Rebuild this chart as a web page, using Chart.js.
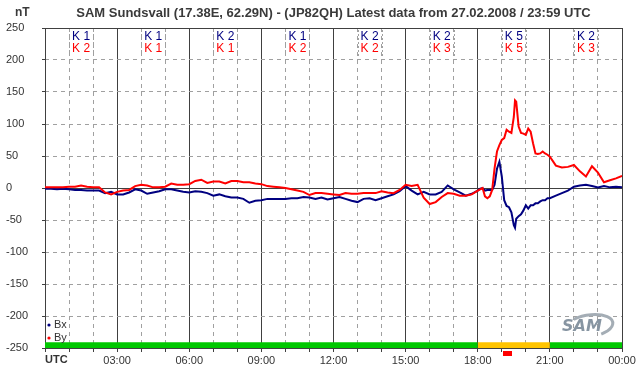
<!DOCTYPE html>
<html>
<head>
<meta charset="utf-8">
<script src="https://cdn.jsdelivr.net/npm/chart.js@4/dist/chart.umd.min.js"></script>
<style>
	html, body { margin: 0; padding: 0; background: #fff; }
	canvas { display: block; }
</style>
</head>
<body>
<canvas id="c" width="642" height="376"></canvas>
<script>
// sample times (hours UTC) and field components in nT
var hours = [
	0, 0.25, 0.5, 0.75, 1, 1.25, 1.5, 1.75, 2, 2.25, 2.5, 2.75,
	3, 3.25, 3.5, 3.75, 4, 4.25, 4.5, 4.75, 5, 5.25, 5.5, 5.75,
	6, 6.25, 6.5, 6.75, 7, 7.25, 7.5, 7.75, 8, 8.25, 8.5, 8.75,
	9, 9.25, 9.5, 9.75, 10, 10.25, 10.5, 10.75, 11, 11.25, 11.5, 11.75,
	12, 12.25, 12.5, 12.75, 13, 13.25, 13.5, 13.75, 14, 14.25, 14.5, 14.75,
	15, 15.25, 15.5, 15.75, 16, 16.25, 16.5, 16.75, 17, 17.25, 17.5, 17.75,
	18, 18.1, 18.2, 18.3, 18.4, 18.5, 18.6, 18.7, 18.8, 18.9,
	19, 19.1, 19.2, 19.3, 19.4, 19.5, 19.55, 19.6, 19.7, 19.8, 19.9,
	20, 20.1, 20.2, 20.3, 20.4, 20.5, 20.6, 20.7, 20.8, 20.9,
	21, 21.25, 21.5, 21.75, 22, 22.25, 22.5, 22.75, 23, 23.25, 23.5, 23.75, 24
];
var bx = [
	-1, -1, -2, -1, -2, -3, -3, -4, -4, -4, -8, -6,
	-10, -10, -7, -2, -4, -9, -7, -5, -2, -2, -4, -6,
	-7, -5, -6, -8, -12, -10, -13, -15, -15, -17, -23, -20,
	-19, -17, -17, -17, -17, -16, -16, -14, -15, -17, -15, -18,
	-16, -14, -17, -20, -22, -17, -16, -19, -16, -13, -10, -5,
	3, -4, -10, -6, -10, -10, -6, 4, -2, -7, -12, -9,
	-4, -1, 0, -4, -3, -3, -3, 5, 30, 41,
	18, -19, -28, -30, -38, -58, -62, -48, -44, -41, -35,
	-27, -32, -27, -27, -24, -24, -21, -19, -19, -16,
	-16, -12, -8, -4, 2, 4, 5, 3, 1, 3, 1, 2, 1
];
var by = [
	1, 1, 1, 1, 2, 2, 4, 2, 1, 1, -7, -10,
	-6, -4, -3, 3, 5, 4, 1, 1, 2, 7, 5, 5,
	6, 11, 13, 8, 10, 10, 7, 11, 11, 9, 9, 7,
	6, 3, 2, 1, 0, -2, -4, -6, -11, -8, -8, -9,
	-10, -11, -8, -9, -9, -8, -8, -8, -5, -7, -8, -3,
	5, 3, 5, -15, -25, -22, -14, -8, -9, -12, -12, -10,
	-4, -2, 0, -13, -16, -13, -3, 31, 57, 67,
	75, 78, 91, 88, 86, 111, 137, 135, 96, 86, 85,
	83, 93, 88, 70, 54, 53, 54, 57, 54, 52,
	49, 35, 32, 33, 36, 26, 18, 34, 24, 9, 12, 15, 19
];

// K indices per 3-hour block
var kBx = [1, 1, 2, 1, 2, 2, 5, 2];
var kBy = [2, 1, 1, 2, 2, 3, 5, 3];

// activity bar along the bottom
var bandFrom = [0, 18, 21];
var bandTo = [18, 21, 24];
var bandLevel = ['quiet', 'active', 'quiet'];
var markerHours = [19.25];

var hourLabels = ['UTC', '03:00', '06:00', '09:00', '12:00', '15:00', '18:00', '21:00', '00:00'];
var titleText = 'SAM Sundsvall (17.38E, 62.29N) - (JP82QH) Latest data from 27.02.2008 / 23:59 UTC';

var FONT = '"Liberation Sans", Arial, sans-serif';
var SOLID = '#404040';
var DASH = '#a0a0a0';
var NONE = 'rgba(0,0,0,0)';
var levelColors = { quiet: '#00c800', active: '#ffc400' };
var BAND_TOP = -241;

function toPoints(xs, ys){
	var pts = [];
	for(var i = 0; i < xs.length; i++){
		pts.push({ x: xs[i], y: ys[i] });
	}
	return pts;
}

var markerImg = document.createElement('canvas');
markerImg.width = 9;
markerImg.height = 5;
var mctx = markerImg.getContext('2d');
mctx.fillStyle = '#ff0000';
mctx.fillRect(0, 0, 9, 5);

var datasets = [
	{ label: 'By', data: toPoints(hours, by), borderColor: '#ff0000', borderWidth: 2, pointRadius: 0, order: 0 },
	{ label: 'Bx', data: toPoints(hours, bx), borderColor: '#000080', borderWidth: 2, pointRadius: 0, order: 1 }
];
for(var b = 0; b < bandFrom.length; b++){
	datasets.push({
		label: 'band' + b,
		data: [{ x: bandFrom[b], y: BAND_TOP }, { x: bandTo[b], y: BAND_TOP }],
		borderWidth: 0,
		borderColor: NONE,
		backgroundColor: levelColors[bandLevel[b]],
		fill: 'start',
		pointRadius: 0,
		order: 3
	});
}
datasets.push({
	label: 'marker',
	data: markerHours.map(function(h){ return { x: h, y: -258.5 }; }),
	showLine: false,
	pointStyle: markerImg,
	pointRadius: 5,
	clip: false,
	order: 2
});

var overlay = {
	id: 'overlay',
	afterDraw: function(chart){
		var ctx = chart.ctx;
		var xs = chart.scales.x;
		var a = chart.chartArea;
		ctx.save();
		ctx.textBaseline = 'middle';

		// title and unit
		ctx.fillStyle = '#3a3a3a';
		ctx.font = 'bold 13px ' + FONT;
		ctx.textAlign = 'center';
		ctx.fillText(titleText, (a.left + a.right) / 2, 13);
		ctx.textAlign = 'left';
		ctx.font = 'bold 12px ' + FONT;
		ctx.fillText('nT', 15, 13);

		// UTC label at origin
		ctx.font = 'bold 11px ' + FONT;
		ctx.fillStyle = '#333';
		ctx.fillText(hourLabels[0], a.left, 360);

		// K indices
		ctx.font = '12px ' + FONT;
		ctx.textAlign = 'center';
		for(var i = 0; i < kBx.length; i++){
			var cx = xs.getPixelForValue(1.5 + 3 * i);
			ctx.fillStyle = '#000080';
			ctx.fillText('K ' + kBx[i], cx, 37);
			ctx.fillStyle = '#ff0000';
			ctx.fillText('K ' + kBy[i], cx, 49);
			ctx.strokeStyle = DASH;
			ctx.lineWidth = 1;
			ctx.setLineDash([2, 2]);
			ctx.beginPath();
			ctx.moveTo(Math.round(cx - 12) + 0.5, 30);
			ctx.lineTo(Math.round(cx - 12) + 0.5, 57);
			ctx.moveTo(Math.round(cx + 12) + 0.5, 30);
			ctx.lineTo(Math.round(cx + 12) + 0.5, 57);
			ctx.stroke();
			ctx.setLineDash([]);
		}

		// legend
		ctx.font = '11px ' + FONT;
		ctx.textAlign = 'left';
		var leg = [['Bx', '#000080', 325], ['By', '#ff0000', 338]];
		leg.forEach(function(l){
			ctx.fillStyle = l[1];
			ctx.beginPath();
			ctx.arc(a.left + 4, l[2], 1.6, 0, Math.PI * 2);
			ctx.fill();
			ctx.fillStyle = '#333';
			ctx.fillText(l[0], a.left + 9, l[2]);
		});

		// SAM logo
		ctx.strokeStyle = '#a4adb5';
		ctx.lineWidth = 3;
		ctx.beginPath();
		ctx.ellipse(589, 326, 24, 11, -0.15, -2.2, 1.1);
		ctx.stroke();
		ctx.fillStyle = '#8795a2';
		ctx.font = 'italic bold 16px "DejaVu Sans", sans-serif';
		ctx.textAlign = 'center';
		ctx.fillText('SAM', 582, 327);
		ctx.restore();
	}
};

new Chart(document.getElementById('c'), {
	type: 'line',
	data: { datasets: datasets },
	options: {
		responsive: false,
		animation: false,
		devicePixelRatio: 1,
		layout: { padding: { top: 28, left: 6, right: 20, bottom: 0 } },
		plugins: { legend: { display: false }, tooltip: { enabled: false }, title: { display: false } },
		elements: { line: { tension: 0 } },
		scales: {
			x: {
				type: 'linear', position: 'bottom', min: 0, max: 24,
				afterFit: function(s){ s.height = 28; },
				ticks: {
					stepSize: 1, autoSkip: false, maxRotation: 0, padding: 2, color: '#333',
					font: { size: 11, family: FONT },
					callback: function(v){ return (v > 0 && v % 3 === 0) ? hourLabels[v / 3] : ''; }
				},
				grid: {
					color: function(c){ return c.tick && c.tick.value % 3 === 0 ? SOLID : NONE; },
					tickColor: SOLID, tickLength: 4
				},
				border: { color: SOLID }
			},
			x2: {
				type: 'linear', position: 'top', min: 0, max: 24,
				afterFit: function(s){ s.height = 0; },
				ticks: { display: false, stepSize: 1, autoSkip: false },
				grid: {
					drawTicks: false,
					color: function(c){ return c.tick && c.tick.value % 3 !== 0 ? DASH : NONE; }
				},
				border: { display: false, dash: [4, 4] }
			},
			y: {
				position: 'left', min: -250, max: 250,
				afterFit: function(s){ s.width = 39; },
				ticks: {
					stepSize: 50, autoSkip: false, crossAlign: 'far', color: '#333',
					font: { size: 11, family: FONT }
				},
				grid: {
					color: function(c){ return c.tick && c.tick.value % 250 === 0 ? SOLID : NONE; },
					tickColor: SOLID, tickLength: 3
				},
				border: { color: SOLID }
			},
			y2: {
				position: 'right', min: -250, max: 250,
				afterFit: function(s){ s.width = 0; },
				ticks: { display: false, stepSize: 50, autoSkip: false },
				grid: {
					drawTicks: false,
					color: function(c){ return c.tick && c.tick.value % 250 !== 0 ? DASH : NONE; }
				},
				border: { display: false, dash: [4, 4] }
			}
		}
	},
	plugins: [overlay]
});
</script>
</body>
</html>
